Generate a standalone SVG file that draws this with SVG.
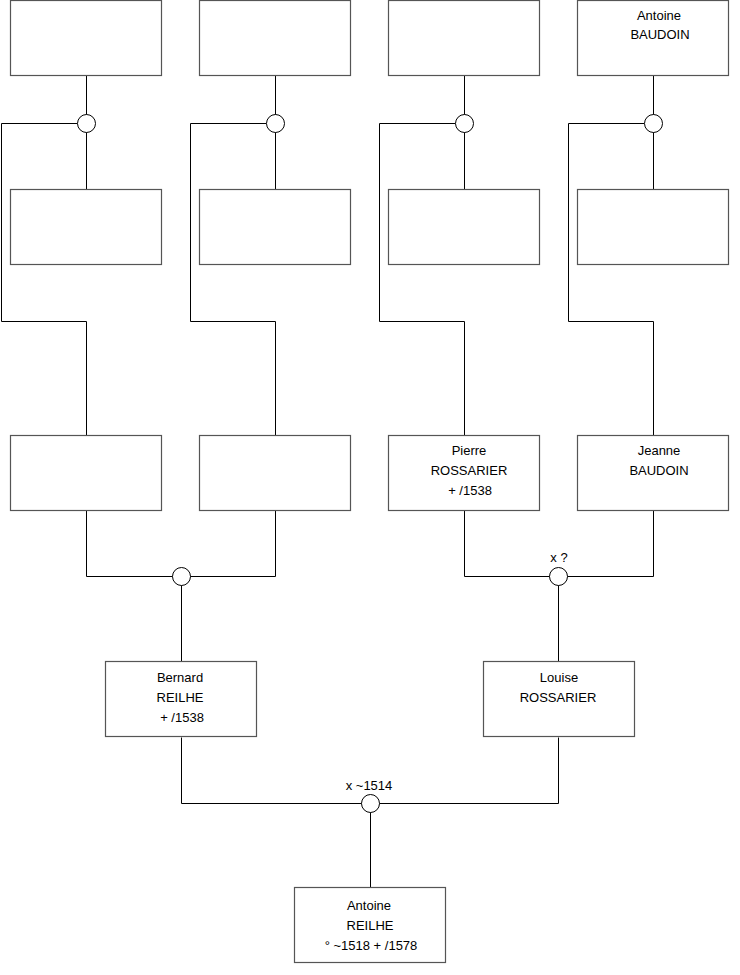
<svg xmlns="http://www.w3.org/2000/svg" width="740" height="975" viewBox="0 0 740 975">
<style>
.box{fill:#fff;stroke:#555;stroke-width:1.2}
.ln{fill:none;stroke:#000;stroke-width:1}
.c{fill:#fff;stroke:#000;stroke-width:1}
text{font-family:"Liberation Sans",Arial,sans-serif;font-size:13px;fill:#000;text-anchor:middle}
</style>
<rect width="740" height="975" fill="#fff"/>
<g id="connectors">
<path class="ln" d="M86.5,75.5V189.5M77.5,123.5H1.5V321.5H86.5V435.5"/>
<path class="ln" d="M275.5,75.5V189.5M266.5,123.5H190.5V321.5H275.5V435.5"/>
<path class="ln" d="M464.5,75.5V189.5M455.5,123.5H379.5V321.5H464.5V435.5"/>
<path class="ln" d="M653.5,75.5V189.5M644.5,123.5H568.5V321.5H653.5V435.5"/>
<path class="ln" d="M86.5,510.5V576.5H275.5V510.5M181.5,576.5V661.5"/>
<path class="ln" d="M464.5,510.5V576.5H653.5V510.5M558.5,576.5V661.5"/>
<path class="ln" d="M181.5,737.5V803.5H558.5V737.5M370.5,803.5V887.5"/>
</g>
<g id="u1"><circle class="c" cx="86.5" cy="123.5" r="9"/></g>
<g id="u2"><circle class="c" cx="275.5" cy="123.5" r="9"/></g>
<g id="u3"><circle class="c" cx="464.5" cy="123.5" r="9"/></g>
<g id="u4"><circle class="c" cx="653.5" cy="123.5" r="9"/></g>
<g id="u5"><circle class="c" cx="181.5" cy="576.5" r="9"/></g>
<g id="u6"><circle class="c" cx="558.5" cy="576.5" r="9"/><text x="559" y="562">x ?</text></g>
<g id="u7"><circle class="c" cx="370.5" cy="803.5" r="9"/><text x="369" y="790">x ~1514</text></g>
<g id="n1"><rect class="box" x="10.5" y="0.5" width="151" height="75"/></g>
<g id="n2"><rect class="box" x="199.5" y="0.5" width="151" height="75"/></g>
<g id="n3"><rect class="box" x="388.5" y="0.5" width="151" height="75"/></g>
<g id="n4"><rect class="box" x="577.5" y="0.5" width="151" height="75"/><text x="659" y="20">Antoine</text><text x="660" y="39">BAUDOIN</text></g>
<g id="n5"><rect class="box" x="10.5" y="189.5" width="151" height="75"/></g>
<g id="n6"><rect class="box" x="199.5" y="189.5" width="151" height="75"/></g>
<g id="n7"><rect class="box" x="388.5" y="189.5" width="151" height="75"/></g>
<g id="n8"><rect class="box" x="577.5" y="189.5" width="151" height="75"/></g>
<g id="n9"><rect class="box" x="10.5" y="435.5" width="151" height="75"/></g>
<g id="n10"><rect class="box" x="199.5" y="435.5" width="151" height="75"/></g>
<g id="n11"><rect class="box" x="388.5" y="435.5" width="151" height="75"/><text x="469" y="455">Pierre</text><text x="469" y="475">ROSSARIER</text><text x="470" y="495">+ /1538</text></g>
<g id="n12"><rect class="box" x="577.5" y="435.5" width="151" height="75"/><text x="659" y="455">Jeanne</text><text x="659" y="475">BAUDOIN</text></g>
<g id="n13"><rect class="box" x="105.5" y="661.5" width="151" height="75"/><text x="180" y="682">Bernard</text><text x="180" y="702">REILHE</text><text x="182" y="722">+ /1538</text></g>
<g id="n14"><rect class="box" x="483.5" y="661.5" width="151" height="75"/><text x="559" y="682">Louise</text><text x="558" y="702">ROSSARIER</text></g>
<g id="n15"><rect class="box" x="294.5" y="887.5" width="151" height="75"/><text x="369" y="910">Antoine</text><text x="370" y="930">REILHE</text><text x="371" y="950">° ~1518 + /1578</text></g>
</svg>
